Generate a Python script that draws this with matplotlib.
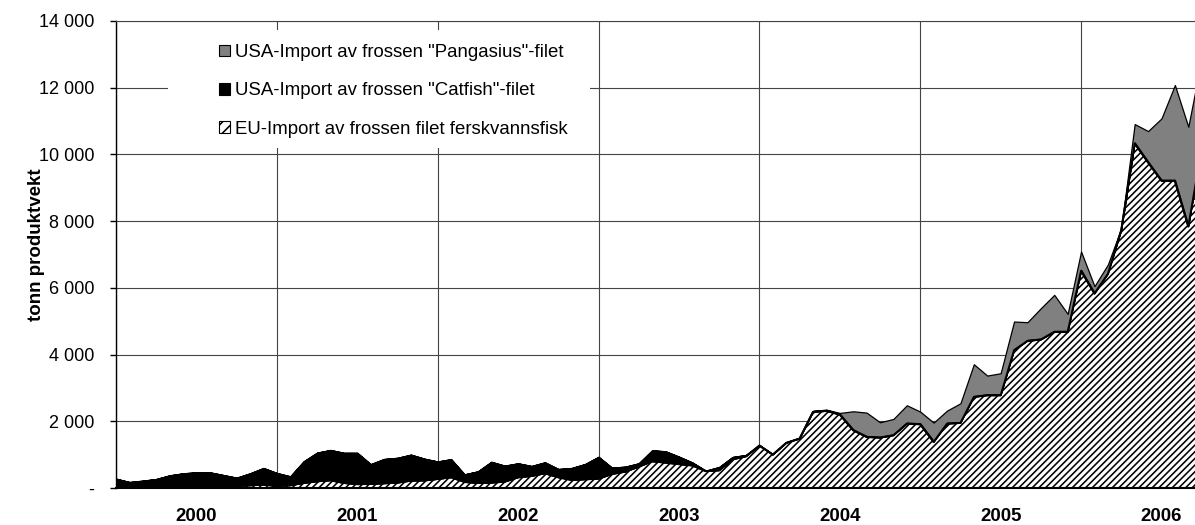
import numpy as np
import matplotlib
matplotlib.use("Agg")
from matplotlib import pyplot as plt
from matplotlib.patches import Patch, Rectangle

plt.rcParams['font.family'] = ['Liberation Sans', 'DejaVu Sans']
plt.rcParams['hatch.linewidth'] = 1.15

# monthly values, Jan 2000 ->, tonn produktvekt
eu = [30, 20, 30, 50, 60, 60, 60, 50, 50, 60, 80, 100,
      60, 80, 150, 200, 230, 150, 115, 120, 140, 160, 220, 225,
      270, 320, 180, 150, 160, 190, 320, 360, 440, 320, 240, 260,
      280, 420, 490, 640, 800, 760, 715, 675, 505, 530, 860, 950,
      1270, 1000, 1350, 1480, 2280, 2310, 2200, 1730, 1530, 1510, 1580, 1930,
      1910, 1380, 1930, 1950, 2730, 2780, 2780, 4130, 4410, 4450, 4680, 4680,
      6510, 5830, 6420, 7730, 10330, 9760, 9210, 9210, 7840, 10170]

catfish = [250, 160, 190, 220, 320, 380, 410, 420, 340, 250, 360, 500,
           390, 270, 650, 860, 910, 905, 940, 595, 730, 745, 780, 655,
           525, 545, 230, 350, 625, 480, 420, 300, 330, 250, 360, 460,
           655, 190, 150, 100, 330, 340, 225, 90, 15, 100, 70, 40,
           20, 15, 25, 25, 30, 30, 30, 30, 30, 30, 30, 30,
           30, 30, 30, 30, 30, 30, 30, 30, 30, 30, 30, 30,
           30, 30, 30, 30, 30, 30, 30, 30, 30, 30]

pangasius = [0] * 53 + [10, 20, 540, 700, 430, 460, 520,
                        350, 550, 360, 560, 950, 560, 630, 830, 530, 910, 1080, 510,
                        550, 190, 250, 30, 550, 910, 1840, 2840, 2960, 2670]

years = ["2000", "2001", "2002", "2003", "2004", "2005", "2006"]
yticks = [0, 2000, 4000, 6000, 8000, 10000, 12000, 14000]
ylabels = ["-", "2 000", "4 000", "6 000", "8 000", "10 000", "12 000", "14 000"]

x = np.arange(len(eu))
eu = np.array(eu, dtype=float)
cat_top = eu + np.array(catfish)
tot = cat_top + np.array(pangasius)

fig = plt.figure(figsize=(11.95, 5.25), dpi=100)
W, H = 1195, 525
ax = fig.add_axes([116 / W, 1 - 488 / H, 1079 / W, 467 / H])

ax.fill_between(x, 0, eu, facecolor='white', hatch='/////', edgecolor='black', linewidth=1.4, zorder=2)
ax.fill_between(x, eu, cat_top, facecolor='black', edgecolor='black', linewidth=0.5, zorder=3)
ax.fill_between(x, cat_top, tot, facecolor='#808080', edgecolor='black', linewidth=0.9, zorder=4)
ax.plot(x, eu, color='black', lw=1.4, zorder=5)

ax.set_xlim(0, 80.5)
ax.set_ylim(0, 14000)

ax.set_xticks(np.arange(0, 81, 12))
ax.set_xticklabels([])
ax.set_xticks(np.arange(6, 84, 12), minor=True)
ax.set_xticklabels(years, minor=True, fontweight='bold', fontsize=13.4)
ax.tick_params(axis='x', which='both', length=0)
ax.tick_params(axis='x', which='minor', pad=14.5)

ax.set_yticks(yticks)
ax.set_yticklabels(ylabels, fontsize=13)
ax.tick_params(axis='y', length=4.3, width=1, pad=11.5, color='black')

ax.set_axisbelow(True)
ax.grid(True, which='major', color='#444444', linewidth=0.8)

ax.spines['right'].set_visible(False)
ax.spines['top'].set_color('#444444')
ax.spines['top'].set_linewidth(0.8)
ax.spines['left'].set_linewidth(1.0)
ax.spines['bottom'].set_linewidth(1.5)

ax.set_ylabel('tonn produktvekt', fontweight='bold', fontsize=13.5)
ax.yaxis.set_label_coords(-0.066, 0.52)

# white box behind the legend, hiding the grid
ax.add_patch(Rectangle((168 / W, 1 - 148 / H), 422 / W, 118 / H, transform=fig.transFigure,
                       facecolor='white', edgecolor='none', zorder=1.5))

handles = [Patch(facecolor='#808080', edgecolor='black', linewidth=0.8),
           Patch(facecolor='black', edgecolor='black', linewidth=0.8),
           Patch(facecolor='white', edgecolor='black', hatch='///', linewidth=0.8)]
labels = ['USA-Import av frossen "Pangasius"-filet',
          'USA-Import av frossen "Catfish"-filet',
          'EU-Import av frossen filet ferskvannsfisk']
ax.legend(handles, labels, loc='upper left', bbox_to_anchor=(219 / W, 1 - 44 / H),
          bbox_transform=fig.transFigure, frameon=False, fontsize=13.4,
          handlelength=0.6, handleheight=0.6, handletextpad=0.28,
          labelspacing=1.15, borderpad=0, borderaxespad=0)

fig.savefig('out.png', dpi=100)
